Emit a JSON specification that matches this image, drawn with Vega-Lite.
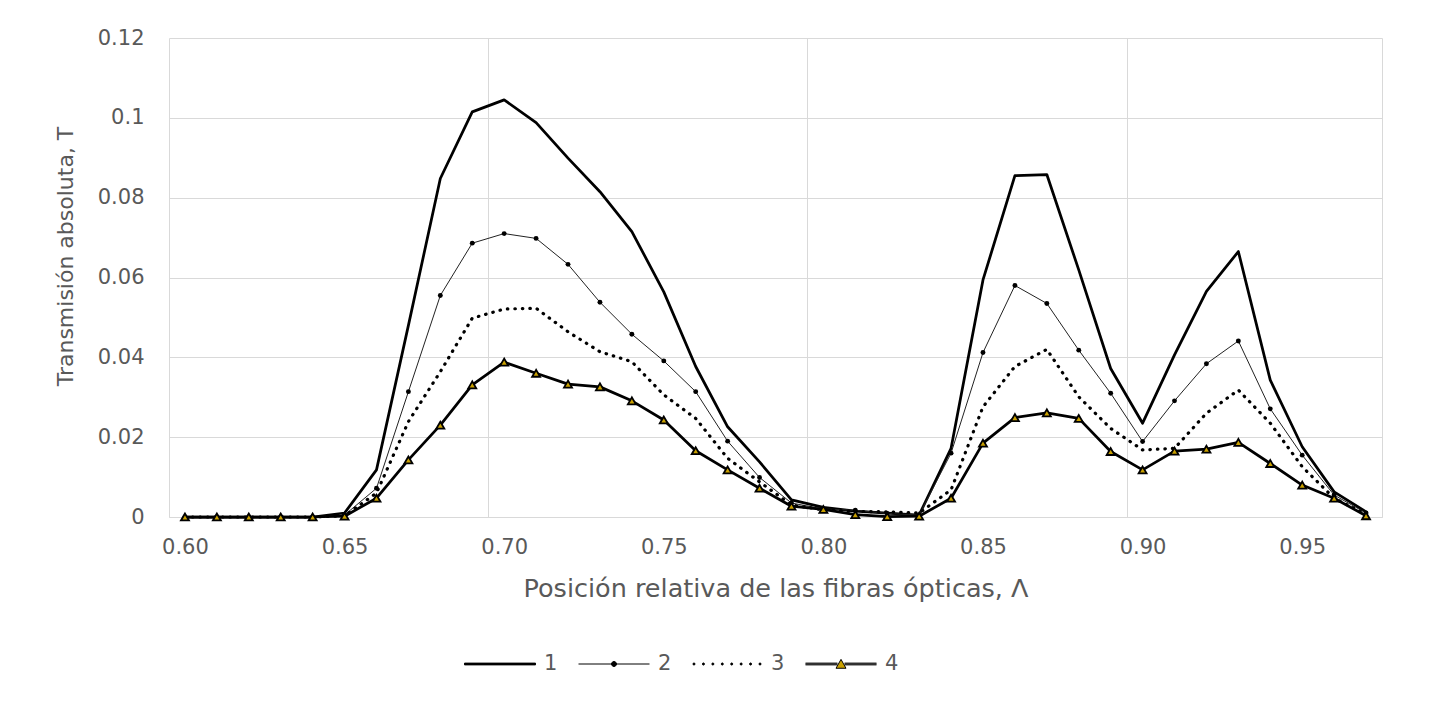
{
  "$schema": "https://vega.github.io/schema/vega-lite/v6.json",
  "autosize": {"type": "none"},
  "width": 1213,
  "height": 479,
  "padding": {"left": 169, "top": 38, "right": 47, "bottom": 185},
  "background": "white",
  "config": {
    "view": {"stroke": null},
    "font": "DejaVu Sans",
    "axis": {
      "labelFont": "DejaVu Sans",
      "titleFont": "DejaVu Sans",
      "labelColor": "#595959",
      "titleColor": "#595959",
      "titleFontWeight": "normal",
      "gridColor": "#d9d9d9",
      "gridWidth": 1,
      "domainColor": "#d9d9d9",
      "ticks": false,
      "tickSize": 0
    },
    "legend": {
      "labelFont": "DejaVu Sans",
      "labelColor": "#595959",
      "labelFontSize": 21,
      "symbolStrokeWidth": 1,
      "symbolOpacity": 1
    }
  },
  "data": {
    "values": [
      {"x": 0.60, "series": "1", "T": 0}, {"x": 0.60, "series": "2", "T": 0}, {"x": 0.60, "series": "3", "T": 0}, {"x": 0.60, "series": "4", "T": 0},
      {"x": 0.61, "series": "1", "T": 0}, {"x": 0.61, "series": "2", "T": 0}, {"x": 0.61, "series": "3", "T": 0}, {"x": 0.61, "series": "4", "T": 0},
      {"x": 0.62, "series": "1", "T": 0}, {"x": 0.62, "series": "2", "T": 0}, {"x": 0.62, "series": "3", "T": 0}, {"x": 0.62, "series": "4", "T": 0},
      {"x": 0.63, "series": "1", "T": 0}, {"x": 0.63, "series": "2", "T": 0}, {"x": 0.63, "series": "3", "T": 0}, {"x": 0.63, "series": "4", "T": 0},
      {"x": 0.64, "series": "1", "T": 0}, {"x": 0.64, "series": "2", "T": 0}, {"x": 0.64, "series": "3", "T": 0}, {"x": 0.64, "series": "4", "T": 0},
      {"x": 0.65, "series": "1", "T": 0.001}, {"x": 0.65, "series": "2", "T": 0.0005}, {"x": 0.65, "series": "3", "T": 0.0003}, {"x": 0.65, "series": "4", "T": 0.0002},
      {"x": 0.66, "series": "1", "T": 0.0118}, {"x": 0.66, "series": "2", "T": 0.0072}, {"x": 0.66, "series": "3", "T": 0.006}, {"x": 0.66, "series": "4", "T": 0.0047},
      {"x": 0.67, "series": "1", "T": 0.048}, {"x": 0.67, "series": "2", "T": 0.0314}, {"x": 0.67, "series": "3", "T": 0.0239}, {"x": 0.67, "series": "4", "T": 0.0143},
      {"x": 0.68, "series": "1", "T": 0.0848}, {"x": 0.68, "series": "2", "T": 0.0555}, {"x": 0.68, "series": "3", "T": 0.0364}, {"x": 0.68, "series": "4", "T": 0.023},
      {"x": 0.69, "series": "1", "T": 0.1015}, {"x": 0.69, "series": "2", "T": 0.0686}, {"x": 0.69, "series": "3", "T": 0.0498}, {"x": 0.69, "series": "4", "T": 0.0331},
      {"x": 0.70, "series": "1", "T": 0.1045}, {"x": 0.70, "series": "2", "T": 0.071}, {"x": 0.70, "series": "3", "T": 0.0521}, {"x": 0.70, "series": "4", "T": 0.0388},
      {"x": 0.71, "series": "1", "T": 0.0988}, {"x": 0.71, "series": "2", "T": 0.0698}, {"x": 0.71, "series": "3", "T": 0.0523}, {"x": 0.71, "series": "4", "T": 0.036},
      {"x": 0.72, "series": "1", "T": 0.0899}, {"x": 0.72, "series": "2", "T": 0.0633}, {"x": 0.72, "series": "3", "T": 0.0464}, {"x": 0.72, "series": "4", "T": 0.0333},
      {"x": 0.73, "series": "1", "T": 0.0815}, {"x": 0.73, "series": "2", "T": 0.0538}, {"x": 0.73, "series": "3", "T": 0.0414}, {"x": 0.73, "series": "4", "T": 0.0326},
      {"x": 0.74, "series": "1", "T": 0.0715}, {"x": 0.74, "series": "2", "T": 0.0458}, {"x": 0.74, "series": "3", "T": 0.0389}, {"x": 0.74, "series": "4", "T": 0.0291},
      {"x": 0.75, "series": "1", "T": 0.0564}, {"x": 0.75, "series": "2", "T": 0.0391}, {"x": 0.75, "series": "3", "T": 0.0306}, {"x": 0.75, "series": "4", "T": 0.0243},
      {"x": 0.76, "series": "1", "T": 0.0377}, {"x": 0.76, "series": "2", "T": 0.0314}, {"x": 0.76, "series": "3", "T": 0.0247}, {"x": 0.76, "series": "4", "T": 0.0166},
      {"x": 0.77, "series": "1", "T": 0.0226}, {"x": 0.77, "series": "2", "T": 0.019}, {"x": 0.77, "series": "3", "T": 0.0147}, {"x": 0.77, "series": "4", "T": 0.0118},
      {"x": 0.78, "series": "1", "T": 0.0138}, {"x": 0.78, "series": "2", "T": 0.0099}, {"x": 0.78, "series": "3", "T": 0.0088}, {"x": 0.78, "series": "4", "T": 0.0072},
      {"x": 0.79, "series": "1", "T": 0.0043}, {"x": 0.79, "series": "2", "T": 0.0035}, {"x": 0.79, "series": "3", "T": 0.003}, {"x": 0.79, "series": "4", "T": 0.0027},
      {"x": 0.80, "series": "1", "T": 0.0024}, {"x": 0.80, "series": "2", "T": 0.002}, {"x": 0.80, "series": "3", "T": 0.0018}, {"x": 0.80, "series": "4", "T": 0.0019},
      {"x": 0.81, "series": "1", "T": 0.0015}, {"x": 0.81, "series": "2", "T": 0.0017}, {"x": 0.81, "series": "3", "T": 0.0014}, {"x": 0.81, "series": "4", "T": 0.0006},
      {"x": 0.82, "series": "1", "T": 0.001}, {"x": 0.82, "series": "2", "T": 0.0009}, {"x": 0.82, "series": "3", "T": 0.0013}, {"x": 0.82, "series": "4", "T": 0.0001},
      {"x": 0.83, "series": "1", "T": 0.0005}, {"x": 0.83, "series": "2", "T": 0.0005}, {"x": 0.83, "series": "3", "T": 0.001}, {"x": 0.83, "series": "4", "T": 0.0002},
      {"x": 0.84, "series": "1", "T": 0.0172}, {"x": 0.84, "series": "2", "T": 0.016}, {"x": 0.84, "series": "3", "T": 0.0068}, {"x": 0.84, "series": "4", "T": 0.0047},
      {"x": 0.85, "series": "1", "T": 0.0594}, {"x": 0.85, "series": "2", "T": 0.0412}, {"x": 0.85, "series": "3", "T": 0.0276}, {"x": 0.85, "series": "4", "T": 0.0185},
      {"x": 0.86, "series": "1", "T": 0.0855}, {"x": 0.86, "series": "2", "T": 0.058}, {"x": 0.86, "series": "3", "T": 0.0377}, {"x": 0.86, "series": "4", "T": 0.0249},
      {"x": 0.87, "series": "1", "T": 0.0858}, {"x": 0.87, "series": "2", "T": 0.0535}, {"x": 0.87, "series": "3", "T": 0.042}, {"x": 0.87, "series": "4", "T": 0.0261},
      {"x": 0.88, "series": "1", "T": 0.0619}, {"x": 0.88, "series": "2", "T": 0.0418}, {"x": 0.88, "series": "3", "T": 0.0301}, {"x": 0.88, "series": "4", "T": 0.0247},
      {"x": 0.89, "series": "1", "T": 0.0372}, {"x": 0.89, "series": "2", "T": 0.031}, {"x": 0.89, "series": "3", "T": 0.0222}, {"x": 0.89, "series": "4", "T": 0.0164},
      {"x": 0.90, "series": "1", "T": 0.0235}, {"x": 0.90, "series": "2", "T": 0.0189}, {"x": 0.90, "series": "3", "T": 0.0168}, {"x": 0.90, "series": "4", "T": 0.0118},
      {"x": 0.91, "series": "1", "T": 0.0406}, {"x": 0.91, "series": "2", "T": 0.0291}, {"x": 0.91, "series": "3", "T": 0.0172}, {"x": 0.91, "series": "4", "T": 0.0165},
      {"x": 0.92, "series": "1", "T": 0.0565}, {"x": 0.92, "series": "2", "T": 0.0384}, {"x": 0.92, "series": "3", "T": 0.026}, {"x": 0.92, "series": "4", "T": 0.017},
      {"x": 0.93, "series": "1", "T": 0.0665}, {"x": 0.93, "series": "2", "T": 0.0441}, {"x": 0.93, "series": "3", "T": 0.0318}, {"x": 0.93, "series": "4", "T": 0.0187},
      {"x": 0.94, "series": "1", "T": 0.0343}, {"x": 0.94, "series": "2", "T": 0.0271}, {"x": 0.94, "series": "3", "T": 0.0235}, {"x": 0.94, "series": "4", "T": 0.0134},
      {"x": 0.95, "series": "1", "T": 0.0176}, {"x": 0.95, "series": "2", "T": 0.0155}, {"x": 0.95, "series": "3", "T": 0.0126}, {"x": 0.95, "series": "4", "T": 0.008},
      {"x": 0.96, "series": "1", "T": 0.0063}, {"x": 0.96, "series": "2", "T": 0.0055}, {"x": 0.96, "series": "3", "T": 0.0047}, {"x": 0.96, "series": "4", "T": 0.0047},
      {"x": 0.97, "series": "1", "T": 0.0013}, {"x": 0.97, "series": "2", "T": 0.001}, {"x": 0.97, "series": "3", "T": 0.0007}, {"x": 0.97, "series": "4", "T": 0.0003}
    ]
  },
  "encoding": {
    "x": {
      "field": "x",
      "type": "quantitative",
      "scale": {"domain": [0.595, 0.975], "nice": false, "zero": false},
      "axis": {
        "title": "Posición relativa de las fibras ópticas, Λ",
        "titleFontSize": 25.5,
        "titlePadding": 19,
        "labelFontSize": 21,
        "labelPadding": 19,
        "labelOverlap": false,
        "labelBound": false,
        "labelFlush": false,
        "values": [0.595, 0.60, 0.65, 0.695, 0.70, 0.75, 0.795, 0.80, 0.85, 0.895, 0.90, 0.95, 0.975],
        "labelExpr": "abs(datum.value*100 - round(datum.value*100)) > 0.25 ? '' : format(datum.value, '.2f')",
        "gridOpacity": {"condition": {"test": "abs(datum.value*100 - round(datum.value*100)) > 0.25", "value": 1}, "value": 0}
      }
    },
    "y": {
      "field": "T",
      "type": "quantitative",
      "scale": {"domain": [0, 0.12], "nice": false},
      "axis": {
        "title": "Transmisión absoluta, T",
        "titleFontSize": 22,
        "titlePadding": 20,
        "titleY": 218,
        "labelFontSize": 21,
        "labelPadding": 25,
        "domain": false,
        "values": [0, 0.02, 0.04, 0.06, 0.08, 0.1, 0.12],
        "format": ".2~f"
      }
    }
  },
  "layer": [
    {
      "transform": [{"filter": "datum.series == '1'"}],
      "mark": {"type": "line", "color": "black", "strokeWidth": 2.75, "strokeJoin": "round"}
    },
    {
      "transform": [{"filter": "datum.series == '2'"}],
      "mark": {"type": "line", "color": "#222222", "strokeWidth": 1}
    },
    {
      "transform": [{"filter": "datum.series == '2'"}],
      "mark": {"type": "point", "shape": "circle", "filled": true, "color": "black", "size": 24, "opacity": 1}
    },
    {
      "transform": [{"filter": "datum.series == '3'"}],
      "mark": {"type": "line", "color": "black", "strokeWidth": 3.2, "strokeDash": [0.5, 7], "strokeCap": "round"}
    },
    {
      "transform": [{"filter": "datum.series == '4'"}],
      "mark": {"type": "line", "color": "black", "strokeWidth": 2.75, "strokeJoin": "round"}
    },
    {
      "transform": [{"filter": "datum.series == '4'"}],
      "mark": {"type": "point", "shape": "triangle-up", "filled": true, "fill": "#C9A000", "stroke": "black", "strokeWidth": 1.8, "size": 64, "opacity": 1}
    },
    {
      "transform": [{"filter": "datum.series == 'legend-only'"}],
      "mark": {"type": "point", "filled": true, "strokeWidth": 1},
      "encoding": {
        "shape": {
          "field": "series",
          "type": "nominal",
          "scale": {
            "domain": ["1", "2", "3", "4"],
            "range": [
              "M-1,-0.025H1V0.025H-1Z",
              "M-1,0H1M-0.07,0a0.07,0.07 0 1,0 0.14,0a0.07,0.07 0 1,0 -0.14,0",
              "M-0.96,0a0.03,0.03 0 1,0 0.06,0a0.03,0.03 0 1,0 -0.06,0M-0.694,0a0.03,0.03 0 1,0 0.06,0a0.03,0.03 0 1,0 -0.06,0M-0.428,0a0.03,0.03 0 1,0 0.06,0a0.03,0.03 0 1,0 -0.06,0M-0.163,0a0.03,0.03 0 1,0 0.06,0a0.03,0.03 0 1,0 -0.06,0M0.103,0a0.03,0.03 0 1,0 0.06,0a0.03,0.03 0 1,0 -0.06,0M0.368,0a0.03,0.03 0 1,0 0.06,0a0.03,0.03 0 1,0 -0.06,0M0.634,0a0.03,0.03 0 1,0 0.06,0a0.03,0.03 0 1,0 -0.06,0M0.9,0a0.03,0.03 0 1,0 0.06,0a0.03,0.03 0 1,0 -0.06,0",
              "M-1,-0.025H-0.1M0.1,-0.025H1M-1,0H-0.1M0.1,0H1M-1,0.025H-0.1M0.1,0.025H1M-0.14,0.12L0.14,0.12L0,-0.13Z"
            ]
          },
          "legend": {
            "title": null,
            "orient": "none",
            "legendX": 295,
            "legendY": 590,
            "direction": "horizontal",
            "symbolSize": 5041,
            "labelOffset": 8,
            "columnPadding": 18,
            "padding": 0
          }
        },
        "fill": {
          "field": "series",
          "type": "nominal",
          "scale": {"domain": ["1", "2", "3", "4"], "range": ["black", "black", "black", "#C9A000"]},
          "legend": {
            "title": null,
            "orient": "none",
            "legendX": 295,
            "legendY": 590,
            "direction": "horizontal",
            "symbolSize": 5041,
            "labelOffset": 8,
            "columnPadding": 18,
            "padding": 0
          }
        },
        "stroke": {
          "field": "series",
          "type": "nominal",
          "scale": {"domain": ["1", "2", "3", "4"], "range": ["black", "black", "black", "black"]},
          "legend": {
            "title": null,
            "orient": "none",
            "legendX": 295,
            "legendY": 590,
            "direction": "horizontal",
            "symbolSize": 5041,
            "labelOffset": 8,
            "columnPadding": 18,
            "padding": 0
          }
        }
      }
    }
  ]
}
